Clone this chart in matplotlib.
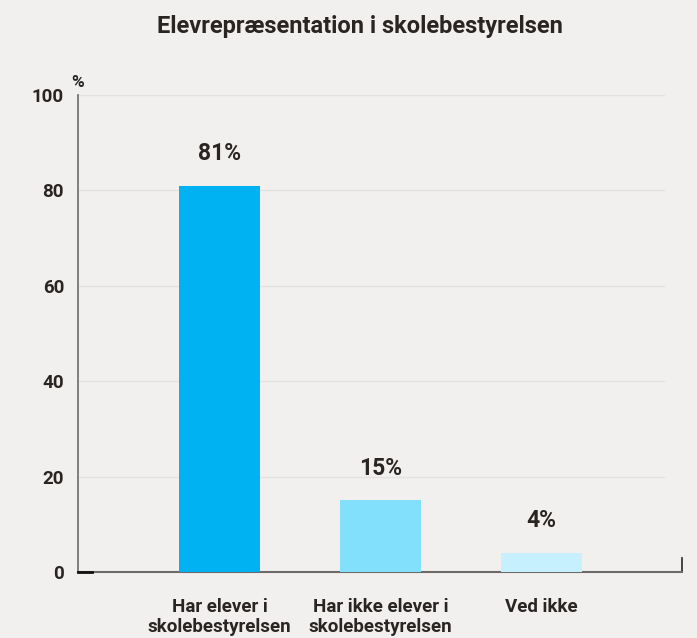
import matplotlib.pyplot as plt

categories = ["Har elever i\nskolebestyrelsen", "Har ikke elever i\nskolebestyrelsen", "Ved ikke"]
values = [81, 15, 4]
value_labels = ["81%", "15%", "4%"]
colors = ["#00B2F2", "#82E0FC", "#C6F0FD"]
yticks = [0, 20, 40, 60, 80, 100]

bg = "#F2F0EE"
ink = "#2A2523"
plt.rcParams["font.family"] = ["Roboto", "DejaVu Sans"]

fig = plt.figure(figsize=(6.97, 6.38), dpi=100, facecolor=bg)
ax = fig.add_axes([78 / 697, 66 / 638, 604 / 697, 477 / 638], facecolor=bg)

x = list(range(len(categories)))
ax.bar(x, values, width=0.503, color=colors, zorder=3)
for xi, v, lab in zip(x, values, value_labels):
    ax.text(xi, v + 4.3, lab, ha="center", va="bottom", fontsize=16.5,
            fontweight="semibold", color=ink)

ax.set_xlim(-0.879, 2.873)
ax.set_ylim(0, 100)
ax.set_yticks(yticks)
ax.set_yticklabels([str(t) for t in yticks], fontsize=13.5, fontweight="semibold", color=ink)
ax.tick_params(axis="y", length=0, pad=10)
ax.set_xticks(x)
ax.set_xticklabels(categories, fontsize=13.5, fontweight="semibold", color=ink, linespacing=1.08)
ax.tick_params(axis="x", length=0, pad=19)

for t in yticks[1:]:
    ax.axhline(t, color="#E4E2E0", lw=1, zorder=1, xmax=0.97)

for s in ["top", "right"]:
    ax.spines[s].set_visible(False)
ax.spines["left"].set_color("#6E6A68")
ax.spines["bottom"].set_color("#6E6A68")
ax.spines["left"].set_linewidth(1.2)
ax.spines["bottom"].set_linewidth(1.5)
ax.plot([1.0, 1.0], [0, 3], transform=ax.get_yaxis_transform(), color="#2A2523",
        lw=1.2, clip_on=False)
ax.plot([-0.879, -0.79], [0, 0], color="#111111", lw=2, clip_on=False, zorder=4)

ax.text(0, 1.01, "%", transform=ax.transAxes, ha="center", va="bottom",
        fontsize=12.5, fontweight="semibold", color=ink)

fig.text(360 / 697, 1 - 26 / 638, "Elevrepræsentation i skolebestyrelsen", ha="center",
         va="center", fontsize=17, fontweight="semibold", color=ink)

fig.savefig("out.png", dpi=100, facecolor=bg)
